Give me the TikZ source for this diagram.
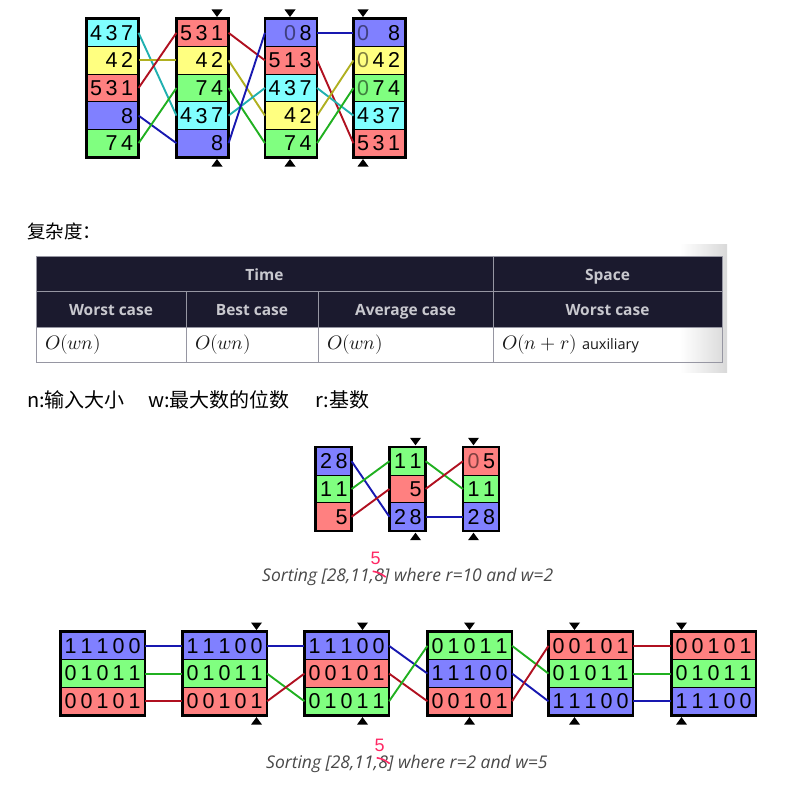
\documentclass[tikz,border=0pt]{standalone}
\usepackage{fontspec}
\usepackage{unicode-math}
\setmainfont{Open Sans}
\setmathfont{Latin Modern Math}
\newfontfamily\dig{Liberation Sans}
\newfontfamily\cjk{Noto Sans CJK SC}
\usetikzlibrary{calc}
\definecolor{fc}{RGB}{128,255,255}
\definecolor{fy}{RGB}{255,255,128}
\definecolor{fr}{RGB}{255,128,128}
\definecolor{fb}{RGB}{128,128,255}
\definecolor{fg}{RGB}{128,255,128}
\definecolor{lc}{RGB}{32,176,176}
\definecolor{ly}{RGB}{176,176,32}
\definecolor{lr}{RGB}{176,16,32}
\definecolor{lb}{RGB}{24,24,176}
\definecolor{lgr}{RGB}{32,176,32}
\definecolor{hdr}{RGB}{27,26,46}
\definecolor{hdrtxt}{RGB}{200,200,206}
\definecolor{tline}{RGB}{150,150,162}
\definecolor{captxt}{RGB}{72,72,72}
\definecolor{pink}{RGB}{255,40,100}
\newcommand\cellbox[5]{%
  \node[cbox, fill=#4] (#1) at ({#2+\cw/2},{\ty+(#3-0.5)*\rh}) {};
  \foreach \s/\d/\o in {#5} {\node[dgt, text opacity=\o] (#1-\s) at ({#2+\so+\s*\sp},{\ty+(#3-0.5)*\rh}) {\d};}%
}
\newcommand\tridn[2]{\fill ({#1-5.5},{#2-9.5}) -- ({#1+5.5},{#2-9.5}) -- (#1,{#2-2}) -- cycle;}
\newcommand\triup[2]{\fill ({#1-5.5},{#2+9.5}) -- ({#1+5.5},{#2+9.5}) -- (#1,{#2+2}) -- cycle;}
\begin{document}
\begin{tikzpicture}[x=1pt,y=-1pt,
  cbox/.style={draw=black, line width=1.1pt, inner sep=0pt, rectangle, minimum width=\cw pt, minimum height=\rh pt},
  dgt/.style={inner sep=0pt, font=\dig\fontsize{21.5}{21.5}\selectfont},
  obox/.style={draw=black, line width=2.4pt},
  conn/.style={line width=1.9pt},
  hd/.style={inner sep=0pt, anchor=base, text=hdrtxt, font=\bfseries\fontsize{15.5}{18}\selectfont},
  bd/.style={inner sep=0pt, anchor=west, text=black!90, font=\fontsize{19.5}{22}\selectfont},
  capt/.style={inner sep=0pt, anchor=base west, text=captxt, font=\itshape\fontsize{17.5}{20}\selectfont},
  five/.style={inner sep=0pt, text=pink, font=\dig\fontsize{18}{18}\selectfont},
  cj/.style={inner sep=0pt, anchor=west, text=black, font=\cjk\fontsize{#1}{#1}\selectfont}]
\useasboundingbox (0,0) rectangle (800,800);

% ---------------- top diagram (r=10, w=3)
\begin{scope}
\def\ty{19}\def\rh{27.6}\def\cw{51}\def\so{9}\def\sp{15.5}
\cellbox{A1r1}{87}{1}{fc}{0/4/1,1/3/1,2/7/1}
\cellbox{A1r2}{87}{2}{fy}{1/4/1,2/2/1}
\cellbox{A1r3}{87}{3}{fr}{0/5/1,1/3/1,2/1/1}
\cellbox{A1r4}{87}{4}{fb}{2/8/1}
\cellbox{A1r5}{87}{5}{fg}{1/7/1,2/4/1}
\cellbox{A2r1}{177}{1}{fr}{0/5/1,1/3/1,2/1/1}
\cellbox{A2r2}{177}{2}{fy}{1/4/1,2/2/1}
\cellbox{A2r3}{177}{3}{fg}{1/7/1,2/4/1}
\cellbox{A2r4}{177}{4}{fc}{0/4/1,1/3/1,2/7/1}
\cellbox{A2r5}{177}{5}{fb}{2/8/1}
\cellbox{A3r1}{265.5}{1}{fb}{1/0/0.5,2/8/1}
\cellbox{A3r2}{265.5}{2}{fr}{0/5/1,1/1/1,2/3/1}
\cellbox{A3r3}{265.5}{3}{fc}{0/4/1,1/3/1,2/7/1}
\cellbox{A3r4}{265.5}{4}{fy}{1/4/1,2/2/1}
\cellbox{A3r5}{265.5}{5}{fg}{1/7/1,2/4/1}
\cellbox{A4r1}{354}{1}{fb}{0/0/0.5,2/8/1}
\cellbox{A4r2}{354}{2}{fy}{0/0/0.5,1/4/1,2/2/1}
\cellbox{A4r3}{354}{3}{fg}{0/0/0.5,1/7/1,2/4/1}
\cellbox{A4r4}{354}{4}{fc}{0/4/1,1/3/1,2/7/1}
\cellbox{A4r5}{354}{5}{fr}{0/5/1,1/3/1,2/1/1}
\foreach \c in {A1,A2,A3,A4} \draw[obox] (\c r1.north west) rectangle (\c r5.south east);
\draw[conn,lc] (A1r1.east) -- (A2r4.west);
\draw[conn,ly] (A1r2.east) -- (A2r2.west);
\draw[conn,lr] (A1r3.east) -- (A2r1.west);
\draw[conn,lb] (A1r4.east) -- (A2r5.west);
\draw[conn,lgr] (A1r5.east) -- (A2r3.west);
\draw[conn,lr] (A2r1.east) -- (A3r2.west);
\draw[conn,ly] (A2r2.east) -- (A3r4.west);
\draw[conn,lgr] (A2r3.east) -- (A3r5.west);
\draw[conn,lc] (A2r4.east) -- (A3r3.west);
\draw[conn,lb] (A2r5.east) -- (A3r1.west);
\draw[conn,lb] (A3r1.east) -- (A4r1.west);
\draw[conn,lr] (A3r2.east) -- (A4r5.west);
\draw[conn,lc] (A3r3.east) -- (A4r4.west);
\draw[conn,ly] (A3r4.east) -- (A4r2.west);
\draw[conn,lgr] (A3r5.east) -- (A4r3.west);
\tridn{217}{19}\triup{217}{157}
\tridn{290}{19}\triup{290}{157}
\tridn{363}{19}\triup{363}{157}
\end{scope}

% ---------------- complexity heading and table
\node[cj=18.5] (title) at (27,231.5) {复杂度：};
\shade[left color=white, right color=black!15] (680,244) rectangle (727,372);
\fill[hdr] (36,256) rectangle (722,327);
\draw[tline, line width=0.8pt] (36,256) rectangle (722,362);
\draw[tline, line width=0.8pt] (36,291) -- (722,291);
\draw[tline, line width=0.8pt] (36,327) -- (722,327);
\draw[tline, line width=0.8pt] (493,256) -- (493,362);
\draw[tline, line width=0.8pt] (186,291) -- (186,362);
\draw[tline, line width=0.8pt] (318,291) -- (318,362);
\node[hd] (hTime) at (264.5,280) {Time};
\node[hd] (hSpace) at (607.5,280) {Space};
\node[hd] (hW1) at (111,315.5) {Worst case};
\node[hd] (hB) at (252,315.5) {Best case};
\node[hd] (hA) at (405.5,315.5) {Average case};
\node[hd] (hW2) at (607.5,315.5) {Worst case};
\node[bd] (b1) at (45,345) {$O(wn)$};
\node[bd] (b2) at (195,345) {$O(wn)$};
\node[bd] (b3) at (327,345) {$O(wn)$};
\node[bd] (b4) at (502,345) {$O(n+r)$ {\fontsize{14.5}{16}\selectfont auxiliary}};

\node[cj=20] (lg1) at (27,400) {n:输入大小};
\node[cj=20] (lg2) at (148,400) {w:最大数的位数};
\node[cj=20] (lg3) at (315,400) {r:基数};

% ---------------- middle diagram (r=10, w=2)
\begin{scope}
\def\ty{447.3}\def\rh{27.8}\def\cw{35}\def\so{10}\def\sp{15.5}
\cellbox{B1r1}{316}{1}{fb}{0/2/1,1/8/1}
\cellbox{B1r2}{316}{2}{fg}{0/1/1,1/1/1}
\cellbox{B1r3}{316}{3}{fr}{1/5/1}
\cellbox{B2r1}{390}{1}{fg}{0/1/1,1/1/1}
\cellbox{B2r2}{390}{2}{fr}{1/5/1}
\cellbox{B2r3}{390}{3}{fb}{0/2/1,1/8/1}
\cellbox{B3r1}{463.5}{1}{fr}{0/0/0.5,1/5/1}
\cellbox{B3r2}{463.5}{2}{fg}{0/1/1,1/1/1}
\cellbox{B3r3}{463.5}{3}{fb}{0/2/1,1/8/1}
\foreach \c in {B1,B2,B3} \draw[obox] (\c r1.north west) rectangle (\c r3.south east);
\draw[conn,lb] (B1r1.east) -- (B2r3.west);
\draw[conn,lgr] (B1r2.east) -- (B2r1.west);
\draw[conn,lr] (B1r3.east) -- (B2r2.west);
\draw[conn,lgr] (B2r1.east) -- (B3r2.west);
\draw[conn,lr] (B2r2.east) -- (B3r1.west);
\draw[conn,lb] (B2r3.east) -- (B3r3.west);
\tridn{415.5}{447.3}\triup{415.5}{530.7}
\tridn{473.5}{447.3}\triup{473.5}{530.7}
\end{scope}
\node[capt] (c1a) at (262,581.5) {Sorting [28,11,};
\node[capt] (c1b) at (c1a.base east) {8};
\node[capt] (c1c) at (c1b.base east) {] where r=10 and w=2};
\node[five] (c1five) at ($(c1b.center)+(-3.5,-16.5)$) {5};
\draw[pink, line width=1.6pt] ($(c1b.center)+(-6.5,-4)$) .. controls ($(c1b.center)+(0,-2.5)$) .. ($(c1b.center)+(6.5,1.8)$);

% ---------------- bottom diagram (r=2, w=5)
\begin{scope}
\def\ty{632}\def\rh{27.7}\def\cw{83.5}\def\so{9.5}\def\sp{16}
\cellbox{C1r1}{61}{1}{fb}{0/1/1,1/1/1,2/1/1,3/0/1,4/0/1}
\cellbox{C1r2}{61}{2}{fg}{0/0/1,1/1/1,2/0/1,3/1/1,4/1/1}
\cellbox{C1r3}{61}{3}{fr}{0/0/1,1/0/1,2/1/1,3/0/1,4/1/1}
\cellbox{C2r1}{183}{1}{fb}{0/1/1,1/1/1,2/1/1,3/0/1,4/0/1}
\cellbox{C2r2}{183}{2}{fg}{0/0/1,1/1/1,2/0/1,3/1/1,4/1/1}
\cellbox{C2r3}{183}{3}{fr}{0/0/1,1/0/1,2/1/1,3/0/1,4/1/1}
\cellbox{C3r1}{305}{1}{fb}{0/1/1,1/1/1,2/1/1,3/0/1,4/0/1}
\cellbox{C3r2}{305}{2}{fr}{0/0/1,1/0/1,2/1/1,3/0/1,4/1/1}
\cellbox{C3r3}{305}{3}{fg}{0/0/1,1/1/1,2/0/1,3/1/1,4/1/1}
\cellbox{C4r1}{428}{1}{fg}{0/0/1,1/1/1,2/0/1,3/1/1,4/1/1}
\cellbox{C4r2}{428}{2}{fb}{0/1/1,1/1/1,2/1/1,3/0/1,4/0/1}
\cellbox{C4r3}{428}{3}{fr}{0/0/1,1/0/1,2/1/1,3/0/1,4/1/1}
\cellbox{C5r1}{549}{1}{fr}{0/0/1,1/0/1,2/1/1,3/0/1,4/1/1}
\cellbox{C5r2}{549}{2}{fg}{0/0/1,1/1/1,2/0/1,3/1/1,4/1/1}
\cellbox{C5r3}{549}{3}{fb}{0/1/1,1/1/1,2/1/1,3/0/1,4/0/1}
\cellbox{C6r1}{672}{1}{fr}{0/0/1,1/0/1,2/1/1,3/0/1,4/1/1}
\cellbox{C6r2}{672}{2}{fg}{0/0/1,1/1/1,2/0/1,3/1/1,4/1/1}
\cellbox{C6r3}{672}{3}{fb}{0/1/1,1/1/1,2/1/1,3/0/1,4/0/1}
\foreach \c in {C1,C2,C3,C4,C5,C6} \draw[obox] (\c r1.north west) rectangle (\c r3.south east);
\draw[conn,lb] (C1r1.east) -- (C2r1.west);
\draw[conn,lgr] (C1r2.east) -- (C2r2.west);
\draw[conn,lr] (C1r3.east) -- (C2r3.west);
\draw[conn,lb] (C2r1.east) -- (C3r1.west);
\draw[conn,lgr] (C2r2.east) -- (C3r3.west);
\draw[conn,lr] (C2r3.east) -- (C3r2.west);
\draw[conn,lb] (C3r1.east) -- (C4r2.west);
\draw[conn,lr] (C3r2.east) -- (C4r3.west);
\draw[conn,lgr] (C3r3.east) -- (C4r1.west);
\draw[conn,lgr] (C4r1.east) -- (C5r2.west);
\draw[conn,lb] (C4r2.east) -- (C5r3.west);
\draw[conn,lr] (C4r3.east) -- (C5r1.west);
\draw[conn,lr] (C5r1.east) -- (C6r1.west);
\draw[conn,lgr] (C5r2.east) -- (C6r2.west);
\draw[conn,lb] (C5r3.east) -- (C6r3.west);
\tridn{256.5}{632}\triup{256.5}{715.1}
\tridn{362.5}{632}\triup{362.5}{715.1}
\tridn{469.5}{632}\triup{469.5}{715.1}
\tridn{574.5}{632}\triup{574.5}{715.1}
\tridn{681.5}{632}\triup{681.5}{715.1}
\end{scope}
\node[capt] (c2a) at (266,768) {Sorting [28,11,};
\node[capt] (c2b) at (c2a.base east) {8};
\node[capt] (c2c) at (c2b.base east) {] where r=2 and w=5};
\node[five] (c2five) at ($(c2b.center)+(-3.5,-16.5)$) {5};
\draw[pink, line width=1.6pt] ($(c2b.center)+(-6.5,-4)$) .. controls ($(c2b.center)+(0,-2.5)$) .. ($(c2b.center)+(6.5,1.8)$);
\end{tikzpicture}
\end{document}
